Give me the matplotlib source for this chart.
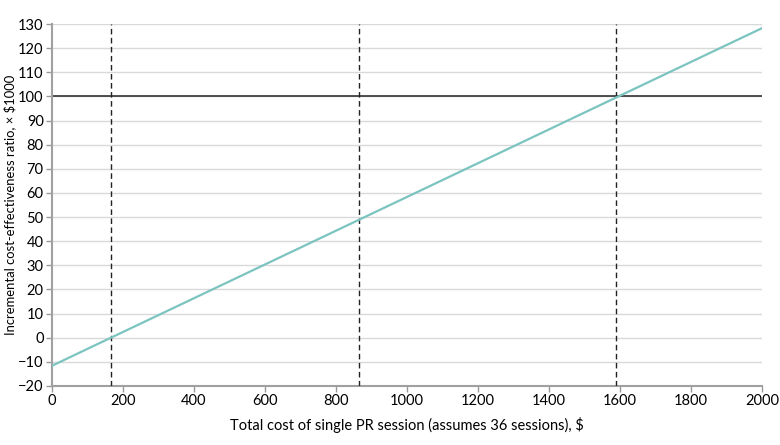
import numpy as np
import matplotlib
matplotlib.use("Agg")
import matplotlib.pyplot as plt

# data
cost = [0, 2000]
icer = [-11.6, 128.3]
thresholds_x = [165, 866, 1588]
wtp = 100

x_ticks = list(range(0, 2001, 200))
y_ticks = list(range(-20, 131, 10))

plt.rcParams['font.family'] = ['Lato', 'DejaVu Sans']

fig = plt.figure(figsize=(7.8, 4.45), dpi=100)
ax = fig.add_axes([0.0667, 0.1326, 0.9103, 0.8134])

for yv in y_ticks:
    ax.axhline(yv, color="#d9d9d9", lw=1, zorder=1)
ax.axhline(wtp, color="#333333", lw=1.2, zorder=2)
for xv in thresholds_x:
    ax.axvline(xv, color="#222222", lw=1, ls=(0, (4, 2.5)), zorder=3)
ax.plot(cost, icer, color="#7cc4c0", lw=1.6, zorder=4)

ax.set_xlim(0, 2000)
ax.set_ylim(-20, 130)
ax.set_xticks(x_ticks)
ax.set_yticks(y_ticks)
ax.tick_params(labelsize=10.5, color="#999999", width=1, length=4, pad=2)

for s in ["top", "right"]:
    ax.spines[s].set_visible(False)
for s in ["left", "bottom"]:
    ax.spines[s].set_color("#a0a0a0")
    ax.spines[s].set_linewidth(1.5)

ax.set_xlabel("Total cost of single PR session (assumes 36 sessions), $", fontsize=10.5, labelpad=6)
ax.set_ylabel("Incremental cost-effectiveness ratio, × $1000", fontsize=9.4)
# y label sits just left of the tick labels
ax.yaxis.set_label_coords(-0.051, 0.5)

fig.savefig("out.png", dpi=100)
